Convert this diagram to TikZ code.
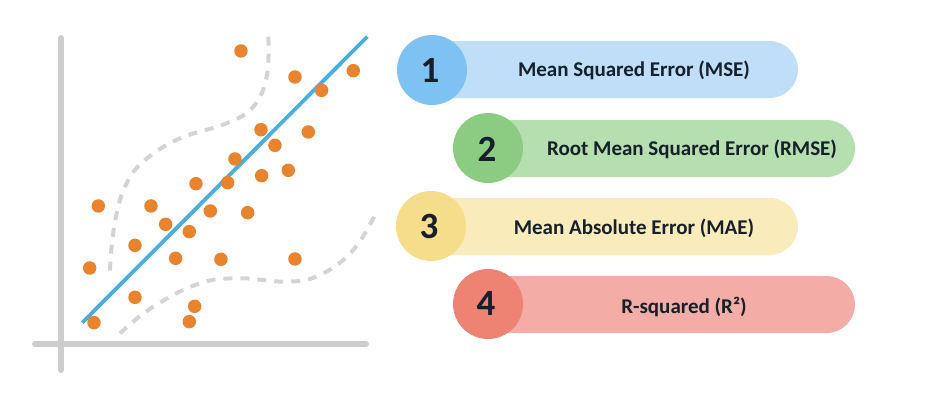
\documentclass[tikz,border=0pt]{standalone}
\usepackage{fontspec}
\setmainfont{Carlito}
\usetikzlibrary{shapes.misc}
\definecolor{axisgrey}{HTML}{CDCDCD}
\definecolor{dashgrey}{HTML}{D4D4D4}
\definecolor{fitblue}{HTML}{4AAEDF}
\definecolor{dotorange}{HTML}{E8842E}
\definecolor{barA}{HTML}{BFDFF8}\definecolor{circA}{HTML}{7DC2F3}
\definecolor{barB}{HTML}{B5DFAE}\definecolor{circB}{HTML}{8CCB82}
\definecolor{barC}{HTML}{FAEBBB}\definecolor{circC}{HTML}{F6DD8B}
\definecolor{barD}{HTML}{F3ACA6}\definecolor{circD}{HTML}{EE8273}
\definecolor{inkdark}{HTML}{15202B}
\tikzset{
  axisline/.style={draw=axisgrey,line width=6pt,line cap=round},
  fitline/.style={draw=fitblue,line width=3.8pt},
  band/.style={draw=dashgrey,line width=4pt,dash pattern=on 9pt off 8pt,smooth,tension=0.7},
  pt/.style={circle,fill=dotorange,minimum size=13.5pt,inner sep=0pt},
  pill/.style={rounded rectangle,rounded rectangle left arc=none,minimum height=57pt,inner sep=0pt},
  badge/.style={circle,minimum size=70pt,inner sep=0pt},
  numeral/.style={font=\fontsize{37}{37}\selectfont\bfseries,text=inkdark,inner sep=0pt},
  caption/.style={font=\fontsize{21}{22}\selectfont\bfseries,text=inkdark,inner sep=0pt}
}
\begin{document}
\begin{tikzpicture}[x=1pt,y=-1pt]
\useasboundingbox (0,0) rectangle (936,408);
% axes
\coordinate (ytop) at (61,38); \coordinate (ybot) at (61,370);
\coordinate (xl) at (35,344); \coordinate (xr) at (366,344);
\draw[axisline] (ytop) -- (ybot);
\draw[axisline] (xl) -- (xr);
% dashed bands
\begin{scope}[shift={(20,20)},x=0.3333pt,y=-0.3333pt]
\draw[band] plot coordinates {(270,752) (275,680) (290,580) (320,490) (375,420) (480,355) (620,310) (700,260) (740,170) (745,50)};
\draw[band] plot coordinates {(300,940) (400,860) (540,790) (660,775) (800,785) (900,765) (1000,690) (1070,575)};
\coordinate (fitA) at (187,908); \coordinate (fitB) at (1042,50);
\draw[fitline] (fitA) -- (fitB);
\foreach \px/\py [count=\i] in {663/93,825/171,1000/152,905/211,723/329,865/336,765/376,645/417,805/451,725/467,528/491,623/488,235/558,393/558,571/573,683/578,437/613,508/635,345/676,467/715,603/718,825/717,209/744,345/832,524/859,508/905,222/908}
  \node[pt] (dot\i) at (\px,\py) {};
\end{scope}
% pills
\node[pill,fill=barA,minimum width=358pt] (barone) at (619,69.5) {};
\node[pill,fill=barB,minimum width=358pt] (bartwo) at (676,148.5) {};
\node[pill,fill=barC,minimum width=358pt] (barthree) at (619,226.5) {};
\node[pill,fill=barD,minimum width=358pt] (barfour) at (676,304.5) {};
\node[badge,fill=circA] (one) at (432,70) {};
\node[badge,fill=circB] (two) at (488,148) {};
\node[badge,fill=circC] (three) at (431,226) {};
\node[badge,fill=circD] (four) at (488,304) {};
\node[numeral] (numone) at (430,70) {1};
\node[numeral] (numtwo) at (487,149) {2};
\node[numeral] (numthree) at (429,226) {3};
\node[numeral] (numfour) at (486,303) {4};
\node[caption] (capone) at (634,70) {Mean Squared Error (MSE)};
\node[caption] (captwo) at (692,149) {Root Mean Squared Error (RMSE)};
\node[caption] (capthree) at (634,228) {Mean Absolute Error (MAE)};
\node[caption] (capfour) at (684,307) {R-squared (R²)};
\end{tikzpicture}
\end{document}
